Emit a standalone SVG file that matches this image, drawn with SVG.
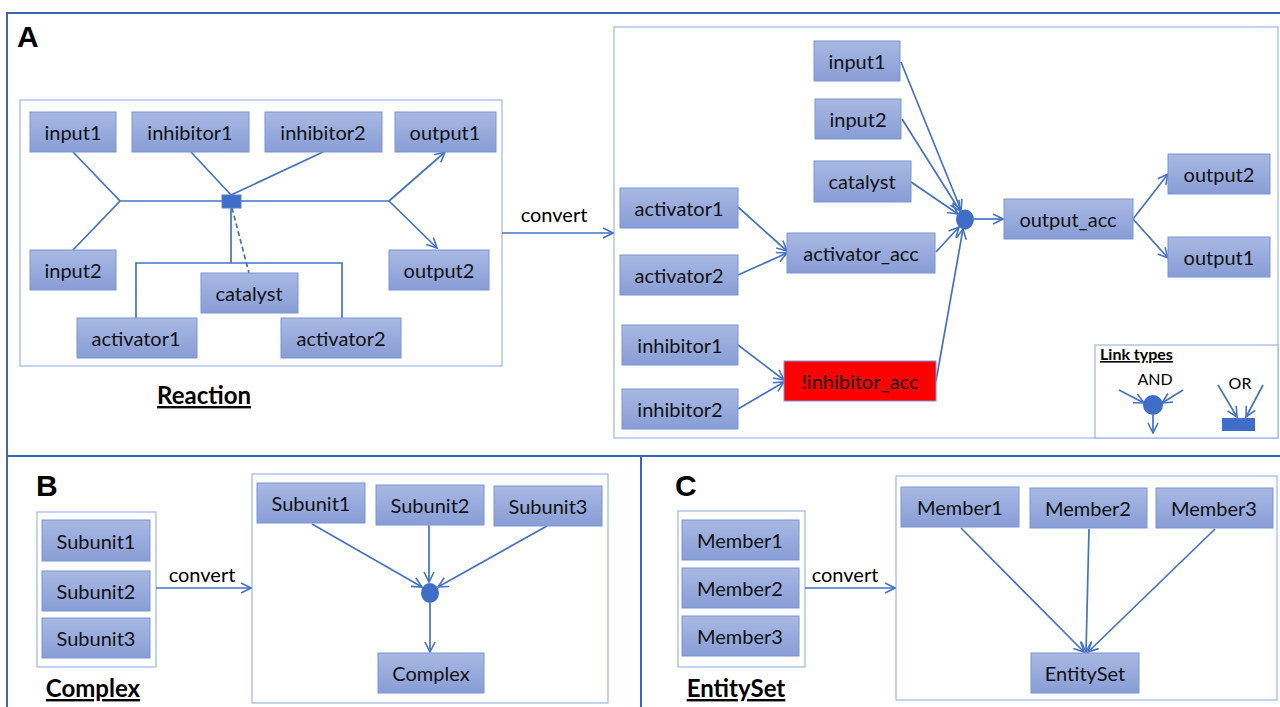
<svg xmlns="http://www.w3.org/2000/svg" width="1280" height="707" viewBox="0 0 1280 707">
<defs>
<linearGradient id="g" x1="0" y1="0" x2="0" y2="1">
<stop offset="0" stop-color="#a9b9e3"/>
<stop offset="1" stop-color="#889dd6"/>
</linearGradient>
<marker id="ah" viewBox="0 0 12 12" refX="11" refY="6" markerWidth="12" markerHeight="12" markerUnits="userSpaceOnUse" orient="auto">
<path d="M1,1 L11,6 L1,11" fill="none" stroke="#4472c4" stroke-width="1.6"/>
</marker>
<style>
.n{fill:url(#g);stroke:#7a95d5;stroke-width:1}
.t{font-family:Lato,"Open Sans","Liberation Sans",sans-serif;font-size:20px;fill:#111;text-anchor:middle;dominant-baseline:central}
.c{fill:none;stroke:#4472c4;stroke-width:1.7}
.a{fill:none;stroke:#4472c4;stroke-width:1.7;marker-end:url(#ah)}
.box{fill:#fff;stroke:#9fb4e6;stroke-width:1.2}
.frame{fill:none;stroke:#3e64b2;stroke-width:2}
.L{font-family:"Liberation Sans",Arial,sans-serif;font-weight:bold;font-size:30px;fill:#000}
.cap{font-family:Lato,"Open Sans","Liberation Sans",sans-serif;font-weight:bold;font-size:24px;fill:#000;text-anchor:middle;text-decoration:underline}
.cv{font-family:Lato,"Open Sans","Liberation Sans",sans-serif;font-size:20px;fill:#000;text-anchor:middle}
.lg{font-family:Lato,"Open Sans","Liberation Sans",sans-serif;font-size:16px;fill:#000;text-anchor:middle}
</style>
</defs>
<rect width="1280" height="707" fill="#fff"/>
<g id="frames">
<path class="frame" d="M1280,13 H7 V707 M7,456 H1280 M641,456 V707"/>
</g>
<g id="labels">
<text class="L" x="17" y="47">A</text>
<text class="L" x="36" y="496">B</text>
<text class="L" x="675" y="496">C</text>
<text class="cap" x="204" y="404">Reaction</text>
<text class="cap" x="93" y="697">Complex</text>
<text class="cap" x="736" y="697">EntitySet</text>
<text class="cv" x="554" y="222">convert</text>
<text class="cv" x="202" y="582">convert</text>
<text class="cv" x="845" y="582">convert</text>
</g>
<g id="containers">
<rect class="box" x="20" y="100" width="482" height="266"/>
<rect class="box" x="614" y="27" width="664" height="411"/>
<rect class="box" x="1095" y="345" width="183" height="93"/>
<rect class="box" x="37" y="512" width="119" height="155"/>
<rect class="box" x="252" y="474" width="356" height="229"/>
<rect class="box" x="678" y="511" width="127" height="156"/>
<rect class="box" x="896" y="476" width="381" height="224"/>
</g>
<g id="connectors">
<path class="c" d="M73,152 L120,201 L73,250 M120,201 H389"/>
<path class="c" d="M191,152 L231,195 M323,152 L231,195"/>
<path class="a" d="M389,201 L445,152"/>
<path class="a" d="M389,201 L437,248"/>
<path class="c" d="M231,208 V263 M136,318 V263 H342 V318"/>
<path class="c" d="M232,208 L249,273" stroke-dasharray="5,3"/>
<path class="a" d="M502,233 H613"/>
<path class="a" d="M901,62 L961,210"/>
<path class="a" d="M902,119 L960,211"/>
<path class="a" d="M911,182 L958,214"/>
<path class="a" d="M936,252 L959,227"/>
<path class="a" d="M936,381 L963,229"/>
<path class="a" d="M974,219 L1003,219"/>
<path class="a" d="M1133,219 L1168,174"/>
<path class="a" d="M1133,219 L1168,258"/>
<path class="a" d="M738,207 L787,251"/>
<path class="a" d="M738,275 L787,253"/>
<path class="a" d="M738,345 L784,380"/>
<path class="a" d="M738,409 L784,382"/>
<path class="a" d="M1119,390 L1144,403"/>
<path class="a" d="M1183,390 L1162,403"/>
<path class="a" d="M1153,415 L1153,433"/>
<path class="a" d="M1218,385 L1237,417"/>
<path class="a" d="M1263,385 L1246,417"/>
<path class="a" d="M156,588 H251"/>
<path class="a" d="M312,524 L422,587"/>
<path class="a" d="M429,525 L429,582"/>
<path class="a" d="M547,526 L438,587"/>
<path class="a" d="M430,603 L430,652"/>
<path class="a" d="M805,588 H895"/>
<path class="a" d="M961,528 L1084,652"/>
<path class="a" d="M1089,529 L1086,652"/>
<path class="a" d="M1215,529 L1088,652"/>
</g>
<g id="junctions">
<rect x="222" y="195" width="19" height="13" fill="#3f6dc8" stroke="#5b82d0"/>
<ellipse cx="965" cy="219.5" rx="9" ry="10" fill="#3f6dc8"/>
<ellipse cx="1153" cy="405" rx="10" ry="10" fill="#3f6dc8"/>
<rect x="1222" y="418" width="33" height="13" fill="#3f6dc8"/>
<ellipse cx="430" cy="593" rx="9" ry="10" fill="#3f6dc8"/>
</g>
<g id="legend-text">
<text class="lg" x="1100" y="360" font-weight="bold" text-decoration="underline" style="text-anchor:start">Link types</text>
<text class="lg" x="1155" y="385">AND</text>
<text class="lg" x="1240" y="389">OR</text>
</g>
<g id="r-input1"><rect class="n" x="30" y="112" width="86" height="40"/><text class="t" x="73" y="132">input1</text></g>
<g id="r-inhibitor1"><rect class="n" x="132" y="112" width="117" height="40"/><text class="t" x="190" y="132">inhibitor1</text></g>
<g id="r-inhibitor2"><rect class="n" x="265" y="112" width="117" height="40"/><text class="t" x="323" y="132">inhibitor2</text></g>
<g id="r-output1"><rect class="n" x="395" y="112" width="101" height="40"/><text class="t" x="445" y="132">output1</text></g>
<g id="r-input2"><rect class="n" x="30" y="250" width="86" height="40"/><text class="t" x="73" y="270">input2</text></g>
<g id="r-output2"><rect class="n" x="389" y="250" width="100" height="40"/><text class="t" x="439" y="270">output2</text></g>
<g id="r-catalyst"><rect class="n" x="201" y="273" width="97" height="40"/><text class="t" x="249" y="293">catalyst</text></g>
<g id="r-activator1"><rect class="n" x="77" y="318" width="120" height="40"/><text class="t" x="136" y="338">activator1</text></g>
<g id="r-activator2"><rect class="n" x="281" y="318" width="120" height="40"/><text class="t" x="341" y="338">activator2</text></g>
<g id="c-input1"><rect class="n" x="814" y="41" width="86" height="40"/><text class="t" x="857" y="61">input1</text></g>
<g id="c-input2"><rect class="n" x="815" y="99" width="86" height="40"/><text class="t" x="858" y="119">input2</text></g>
<g id="c-catalyst"><rect class="n" x="814" y="161" width="97" height="41"/><text class="t" x="862" y="181">catalyst</text></g>
<g id="c-activator1"><rect class="n" x="620" y="188" width="118" height="40"/><text class="t" x="679" y="208">activator1</text></g>
<g id="c-activator2"><rect class="n" x="620" y="255" width="118" height="40"/><text class="t" x="679" y="275">activator2</text></g>
<g id="c-activator_acc"><rect class="n" x="787" y="233" width="148" height="40"/><text class="t" x="861" y="253">activator_acc</text></g>
<g id="c-inhibitor1"><rect class="n" x="622" y="325" width="116" height="40"/><text class="t" x="680" y="345">inhibitor1</text></g>
<g id="c-inhibitor2"><rect class="n" x="622" y="389" width="116" height="40"/><text class="t" x="680" y="409">inhibitor2</text></g>
<g id="c-inhibitor_acc"><rect x="784" y="361" width="152" height="40" fill="#ff0000" stroke="#7a95d5"/><text class="t" x="860" y="381">!inhibitor_acc</text></g>
<g id="c-output_acc"><rect class="n" x="1004" y="199" width="129" height="40"/><text class="t" x="1068" y="219">output_acc</text></g>
<g id="c-output2"><rect class="n" x="1168" y="154" width="102" height="40"/><text class="t" x="1219" y="174">output2</text></g>
<g id="c-output1"><rect class="n" x="1168" y="237" width="102" height="40"/><text class="t" x="1219" y="257">output1</text></g>
<g id="b-subunit1"><rect class="n" x="42" y="520" width="108" height="41"/><text class="t" x="96" y="541">Subunit1</text></g>
<g id="b-subunit2"><rect class="n" x="42" y="571" width="108" height="40"/><text class="t" x="96" y="591">Subunit2</text></g>
<g id="b-subunit3"><rect class="n" x="42" y="618" width="108" height="40"/><text class="t" x="96" y="638">Subunit3</text></g>
<g id="bc-subunit1"><rect class="n" x="257" y="483" width="108" height="40"/><text class="t" x="311" y="503">Subunit1</text></g>
<g id="bc-subunit2"><rect class="n" x="376" y="485" width="108" height="40"/><text class="t" x="430" y="505">Subunit2</text></g>
<g id="bc-subunit3"><rect class="n" x="494" y="486" width="108" height="40"/><text class="t" x="548" y="506">Subunit3</text></g>
<g id="bc-complex"><rect class="n" x="378" y="653" width="106" height="40"/><text class="t" x="431" y="673">Complex</text></g>
<g id="e-member1"><rect class="n" x="682" y="520" width="117" height="40"/><text class="t" x="740" y="540">Member1</text></g>
<g id="e-member2"><rect class="n" x="682" y="568" width="117" height="40"/><text class="t" x="740" y="588">Member2</text></g>
<g id="e-member3"><rect class="n" x="682" y="616" width="117" height="40"/><text class="t" x="740" y="636">Member3</text></g>
<g id="ec-member1"><rect class="n" x="901" y="487" width="118" height="40"/><text class="t" x="960" y="507">Member1</text></g>
<g id="ec-member2"><rect class="n" x="1030" y="488" width="117" height="40"/><text class="t" x="1088" y="508">Member2</text></g>
<g id="ec-member3"><rect class="n" x="1156" y="488" width="117" height="40"/><text class="t" x="1214" y="508">Member3</text></g>
<g id="ec-entityset"><rect class="n" x="1031" y="653" width="108" height="40"/><text class="t" x="1085" y="673">EntitySet</text></g>
</svg>
